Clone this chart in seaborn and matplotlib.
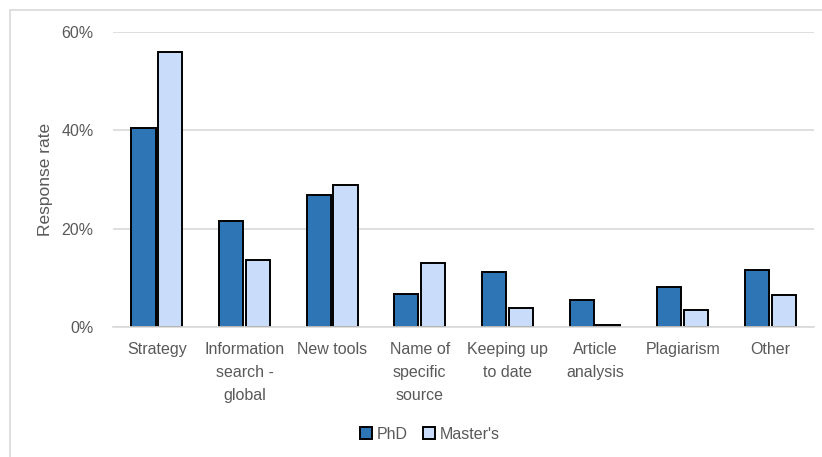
import numpy as np
import pandas as pd
import matplotlib.pyplot as plt
import matplotlib as mpl
import seaborn as sns
from matplotlib.patches import Rectangle
from matplotlib.ticker import PercentFormatter

# ------------------
# Data
# ------------------
categories = ['Strategy', 'Information\nsearch -\nglobal', 'New tools',
              'Name of\nspecific\nsource', 'Keeping up\nto date',
              'Article\nanalysis', 'Plagiarism', 'Other']
phd = [40.5, 21.5, 26.9, 6.6, 11.2, 5.4, 8.0, 11.5]
masters = [55.9, 13.6, 28.9, 13.0, 3.9, 0.3, 3.5, 6.4]
groups = ['PhD', "Master's"]

df = pd.DataFrame({
    'category': categories * 2,
    'group': [groups[0]] * len(categories) + [groups[1]] * len(categories),
    'value': phd + masters,
})

# ------------------
# Plotting
# ------------------
sns.set_style('white')
mpl.rcParams['font.family'] = ['Liberation Sans', 'DejaVu Sans']
grey = '#595959'

fig = plt.figure(figsize=(8.22, 4.57), dpi=100)
ax = fig.add_axes([0.1375, 0.285, 0.853, 0.645])

sns.barplot(data=df, x='category', y='value', hue='group', ax=ax,
            palette=['#2E75B6', '#C9DDFA'], width=0.61, gap=0.1,
            edgecolor='black', linewidth=1.4, saturation=1)

ax.set_ylim(0, 60)
ax.set_yticks([0, 20, 40, 60])
ax.yaxis.set_major_formatter(PercentFormatter(decimals=0))
ax.grid(axis='y', color='#D9D9D9', linewidth=1.2)
ax.set_axisbelow(True)
for s in ['top', 'right', 'left']:
    ax.spines[s].set_visible(False)
ax.spines['bottom'].set_color('#D9D9D9')
ax.spines['bottom'].set_linewidth(1.2)
ax.set_xlim(-0.5, len(categories) - 0.5)

ax.tick_params(axis='both', length=0, labelsize=11.5, labelcolor=grey)
ax.tick_params(axis='y', pad=14)
ax.tick_params(axis='x', pad=11)
for t in ax.get_xticklabels():
    t.set_linespacing(1.65)
ax.set_xlabel('')
ax.set_ylabel('Response rate', fontsize=12.5, color=grey, labelpad=6)

leg = ax.legend(loc='upper center', bbox_to_anchor=(0.452, -0.29), ncol=2,
                frameon=False, fontsize=11.5, handlelength=0.7,
                handleheight=0.7, handletextpad=0.3, columnspacing=1.0)
for t in leg.get_texts():
    t.set_color(grey)

# outer border
fig.patches.append(Rectangle((10 / 822, -0.1), 1.2, 1 - 10 / 457 + 0.1,
                             transform=fig.transFigure, fill=False,
                             edgecolor='#D9D9D9', linewidth=1.2))

plt.savefig('out.png', dpi=100)
plt.close('all')
